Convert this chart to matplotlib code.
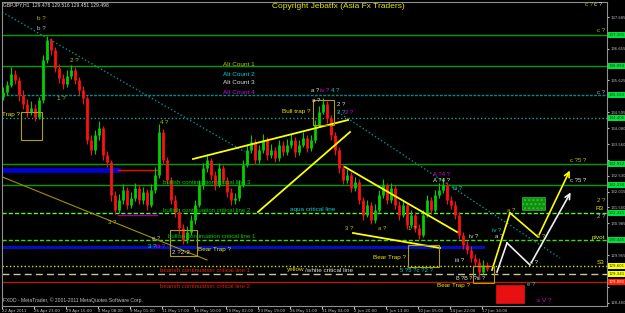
import matplotlib
matplotlib.use("Agg")
import matplotlib.pyplot as plt
from matplotlib.patches import Rectangle

W, H = 625, 313

# GBPJPY H1, one entry per two hourly bars
first_open = 135.10
closes = [135.25, 135.48, 135.83, 135.64, 135.15, 134.86, 134.60, 134.73, 134.44, 134.99,
          136.29, 136.94, 136.61, 136.03, 135.70, 135.51, 135.77, 135.96, 135.64, 135.31,
          135.06, 133.69, 133.37, 133.85, 134.08, 133.20, 132.98, 131.91, 131.42, 131.74,
          132.07, 131.58, 131.81, 132.13, 131.74, 132.00, 131.58, 132.07, 132.56, 133.95,
          133.04, 132.39, 131.74, 131.35, 130.83, 130.45, 130.71, 131.09, 131.58, 132.23,
          132.78, 133.04, 132.56, 132.23, 132.78, 132.39, 132.00, 131.74, 131.81, 132.23,
          132.88, 133.37, 133.63, 133.04, 133.37, 133.69, 133.20, 133.37, 133.11, 133.53,
          133.30, 133.53, 133.69, 133.30, 133.53, 133.76, 133.43, 133.69, 134.18, 134.60,
          134.86, 134.41, 133.85, 133.37, 132.78, 132.39, 132.56, 132.13, 132.33, 131.74,
          131.26, 131.58, 131.09, 131.42, 131.91, 132.23, 131.74, 132.13, 131.58, 131.26,
          131.58, 130.93, 131.26, 130.83, 130.61, 131.26, 131.74, 131.42, 131.91, 132.07,
          132.23, 131.74, 131.58, 131.26, 130.61, 130.28, 130.12, 129.86, 129.73, 129.41,
          129.63, 129.50]
highs = [135.40, 135.62, 136.05, 135.95, 135.75, 135.30, 135.02, 134.95, 134.85, 135.10,
         136.45, 137.08, 137.00, 136.70, 136.15, 135.85, 135.95, 136.12, 136.05, 135.75,
         135.45, 135.12, 133.85, 134.00, 134.30, 134.15, 133.35, 133.05, 132.05, 131.95,
         132.25, 132.15, 132.00, 132.30, 132.22, 132.18, 132.10, 132.25, 132.80, 134.20,
         134.05, 133.15, 132.50, 131.90, 131.45, 130.95, 130.90, 131.25, 131.75, 132.40,
         132.95, 133.25, 133.12, 132.70, 132.95, 132.88, 132.50, 132.12, 131.98, 132.40,
         133.05, 133.55, 133.85, 133.72, 133.52, 133.88, 133.78, 133.55, 133.48, 133.70,
         133.65, 133.72, 133.88, 133.78, 133.70, 133.95, 133.85, 133.85, 134.35, 134.80,
         135.05, 134.95, 134.50, 133.95, 133.45, 132.90, 132.75, 132.65, 132.50, 132.42,
         131.85, 131.75, 131.68, 131.60, 132.08, 132.42, 132.30, 132.30, 132.22, 131.70,
         131.75, 131.66, 131.42, 131.35, 130.95, 131.42, 131.92, 131.85, 132.08, 132.28,
         132.45, 132.32, 131.88, 131.70, 131.35, 130.72, 130.42, 130.25, 130.00, 129.85,
         129.78, 129.72]
lows = [134.98, 135.15, 135.40, 135.50, 134.95, 134.70, 134.45, 134.50, 134.30, 134.38,
        134.90, 136.20, 136.45, 135.90, 135.55, 135.35, 135.42, 135.68, 135.50, 135.15,
        134.85, 133.55, 133.20, 133.25, 133.70, 133.05, 132.80, 131.70, 131.30, 131.33,
        131.62, 131.45, 131.48, 131.70, 131.60, 131.62, 131.42, 131.50, 131.98, 132.45,
        132.90, 132.25, 131.60, 131.20, 130.65, 130.30, 130.35, 130.62, 130.98, 131.50,
        132.10, 132.65, 132.40, 132.08, 132.15, 132.25, 131.85, 131.58, 131.60, 131.72,
        132.15, 132.80, 133.28, 132.90, 132.95, 133.28, 133.05, 133.10, 132.98, 133.02,
        133.18, 133.22, 133.42, 133.15, 133.22, 133.45, 133.30, 133.35, 133.60, 134.10,
        134.52, 134.25, 133.70, 133.22, 132.62, 132.25, 132.30, 132.00, 132.05, 131.60,
        131.10, 131.18, 130.95, 131.00, 131.35, 131.82, 131.60, 131.65, 131.45, 131.10,
        131.18, 130.80, 130.85, 130.70, 130.48, 130.55, 131.18, 131.30, 131.35, 131.80,
        131.98, 131.60, 131.45, 131.12, 130.48, 130.15, 129.98, 129.72, 129.60, 129.28,
        129.33, 129.45]

dates = ["22 Apr 2011", "26 Apr 23:00", "29 Apr 15:00", "4 May 08:00", "9 May 01:00",
         "11 May 17:00", "16 May 10:00", "19 May 02:00", "23 May 19:00", "26 May 11:00",
         "31 May 04:00", "2 Jun 20:00", "7 Jun 13:00", "10 Jun 05:00", "14 Jun 22:00",
         "17 Jun 14:00"]

price_ticks = [137.685, 137.170, 136.655, 136.140, 135.625, 135.110, 134.595, 134.080,
               133.560, 133.045, 132.530, 132.015, 131.500, 130.985, 130.470, 129.955,
               129.440, 128.925, 128.400]

# horizontal levels and their price tags
levels = [137.101, 136.094, 135.153, 134.406, 132.912, 132.230, 131.321, 130.445,
          129.601, 129.341, 129.081]
level_style = [("#00a000", "-"), ("#00a000", "-"), ("#008c8c", (0, (2, 1))),
               ("#20a0a0", ":"), ("#00a000", "-"), ("#00a000", "-"),
               ("#50ff20", (0, (3, 1.5))), ("#40e000", (0, (3, 1.5))),
               ("#e0e000", ":"), ("#c8c8a0", (0, (5, 3))), ("#b02000", "-")]
tag_colors = ["#00e040"] * 8 + ["#ffff00", "#ffff00", "#ff2000"]


def bx(x):
    # chart pixel x -> bar position
    return (x - 3) / 4.0


def pr(y):
    # chart pixel y -> price
    return 138.237 - y / 30.8


fig = plt.figure(figsize=(W / 100, H / 100), dpi=100, facecolor="black")
ax = fig.add_axes([2 / W, 7 / H, 605 / W, 304 / H], facecolor="black")
ax.set_xlim(bx(2), bx(607))
ax.set_ylim(pr(306), pr(2))

# levels
for lv, (c, ls) in zip(levels, level_style):
    ax.axhline(lv, color=c, ls=ls, lw=1, zorder=1)

# candles
opens = [first_open] + closes[:-1]
xs = list(range(len(closes)))
lo = [min(o, c) for o, c in zip(opens, closes)]
hi = [max(o, c) for o, c in zip(opens, closes)]
cols = ["#00d000" if c >= o else "#ff1010" for o, c in zip(opens, closes)]
ax.vlines(xs, lows, highs, colors=cols, lw=0.8, zorder=3)
ax.vlines(xs, lo, hi, colors=cols, lw=2.0, zorder=3)


def seg(p, q, **kw):
    ax.plot([bx(p[0]), bx(q[0])], [pr(p[1]), pr(q[1])], **kw)


# drawn objects
seg((0, 170), (118, 170), color="#0000d0", lw=3.5, zorder=2)
seg((118, 170), (157, 170), color="#ff0000", lw=1, zorder=2)
seg((118, 215), (157, 215), color="#a000a0", lw=1, zorder=2)
seg((0, 247), (483, 247), color="#0010c0", lw=2.2, zorder=2)
seg((2, 12), (245, 152), color="#009090", lw=1, ls=":", zorder=2)
seg((338, 112), (560, 258), color="#009090", lw=1, ls=":", zorder=2)
seg((0, 176), (207, 260), color="#a09000", lw=0.8, zorder=2)
for p, q in [((193, 159), (348, 120)), ((258, 212), (350, 132)),
             ((345, 167), (457, 232)), ((353, 233), (440, 248))]:
    seg(p, q, color="#ffff00", lw=1.3, zorder=4)

seg((492, 270), (510, 213), color="#ffff00", lw=1.2, zorder=4)
seg((510, 213), (538, 237), color="#ffff00", lw=1.2, zorder=4)
ax.annotate("", xy=(bx(571), pr(168)), xytext=(bx(538), pr(237)),
            arrowprops=dict(arrowstyle="->", color="#ffff00", lw=1.2, mutation_scale=9))
seg((497, 272), (507, 243), color="#f0f0f0", lw=1.2, zorder=4)
seg((507, 243), (530, 265), color="#f0f0f0", lw=1.2, zorder=4)
ax.annotate("", xy=(bx(572), pr(190)), xytext=(bx(530), pr(265)),
            arrowprops=dict(arrowstyle="->", color="#f0f0f0", lw=1.2, mutation_scale=9))


def box(x1, y1, x2, y2, **kw):
    ax.add_patch(Rectangle((bx(x1), pr(y2)), bx(x2) - bx(x1), pr(y1) - pr(y2), **kw))


box(522, 197, 545, 210, facecolor="#109010", edgecolor="#30c030", hatch="....", lw=0.5, zorder=2)
box(496, 285, 524, 303, facecolor="#e81010", edgecolor="#e81010", lw=0.5, zorder=2)
for b in [(21, 112, 42, 140), (170, 230, 197, 256), (313, 100, 334, 125),
          (473, 266, 494, 283), (408, 245, 439, 267)]:
    box(*b, facecolor="none", edgecolor="#b0a000", lw=0.8, zorder=5)

# axes styling
for s in ax.spines.values():
    s.set_color("#909090")
    s.set_linewidth(0.8)
ax.yaxis.tick_right()
ax.set_yticks(price_ticks)
# tick labels hidden under a price tag are left blank
ax.set_yticklabels(["" if min(abs(v - lv) for lv in levels) < 0.17 else "%.3f" % v
                    for v in price_ticks])
ax.tick_params(axis="y", direction="out", length=1.5, labelsize=2.7, colors="#c0c0c0", pad=0.8)
ax.set_xticks([k * 8 - 0.25 for k in range(len(dates))])
ax.set_xticklabels(dates)
ax.tick_params(axis="x", direction="out", length=2, labelsize=2.9, colors="#c0c0c0", pad=0.5)
for lab in ax.get_xticklabels():
    lab.set_horizontalalignment("left")

# price tags
for lv, tc in zip(levels, tag_colors):
    fig.text(608.5 / W, 1 - (138.237 - lv) * 30.8 / H, "%.3f" % lv, fontsize=2.8,
             color="#004000" if tc != "#ff2000" else "#ffffff", va="center", ha="left",
             bbox=dict(boxstyle="square,pad=0.2", fc=tc, ec="none"))

YL, OL, WH, CY, MG, GR, RD = "#e8e800", "#c0c000", "#e0e0e0", "#00d8d8", "#e000e0", "#00d000", "#e02000"
notes = [
    (3, 5, "GBPJPY,H1  129.478 129.516 129.451 129.498", WH, 3.6),
    (272, 7, "Copyright Jebatfx (Asia Fx Traders)", YL, 6),
    (37, 18, "b ?", OL, 4.5), (37, 28, "b ?", "#c0c0c0", 4.5),
    (70, 60, "2 ?", OL, 4.5), (57, 99, "1 ?", OL, 4.5),
    (2, 114, "Trap ?", YL, 4.6),
    (223, 65, "Alt Count 1", OL, 4.6), (223, 74, "Alt Count 2", CY, 4.6),
    (223, 83, "Alt Count 3", WH, 4.6), (223, 92, "Alt Count 4", MG, 4.6),
    (311, 91, "a ?", WH, 4.3), (320, 91, "iv ?", MG, 4.3), (331, 91, "4 ?", CY, 4.3),
    (312, 101, "a ?", WH, 4.3), (282, 112, "Bull trap ?", YL, 4.6),
    (337, 105, "2 ?", WH, 4.3), (337, 113, "2 ?", CY, 4.3), (345, 113, "2 ?", MG, 4.3),
    (585, 5, "c ?", OL, 4.3), (594, 5, "c ?", WH, 4.3),
    (597, 31, "c ?", OL, 4.3), (597, 92, "c ?", "#c0c0c0", 4.3),
    (160, 123, "4 ?", OL, 4.3),
    (163, 183, "bullish continuation critical line 3", GR, 4.4),
    (163, 210, "bullish continuation critical line 2", GR, 4.4),
    (290, 209, "aqua critical line", CY, 4.6),
    (168, 237, "bullish continuation critical line 1", GR, 4.4),
    (152, 238, "e ?", "#c0c0c0", 4.3),
    (148, 247, "3 ?", CY, 4.3), (156, 247, "iii ?", MG, 4.3),
    (172, 252, "2 ?2-2", "#e0e0c0", 4.6), (198, 249, "Bear Trap ?", YL, 4.6),
    (287, 270, "yellow", YL, 4.6), (305, 270, "/white critical line", WH, 4.6),
    (160, 270, "bearish continuation critical line 1", RD, 4.4),
    (160, 286, "bearish continuation critical line 2", RD, 4.4),
    (108, 222, "3 ?", OL, 4.3),
    (3, 300, "FXDD - MetaTrader, \u00a9 2001-2011 MetaQuotes Software Corp.", "#c0c0c0", 3.6),
    (345, 229, "3 ?", OL, 4.3), (378, 229, "a ?", OL, 4.3), (408, 229, "1 ?", OL, 4.3),
    (373, 257, "Bear Trap ?", YL, 4.6), (400, 270, "5 ?5 ?c ?2 ?", CY, 4.3),
    (433, 174, "A ?4 ?", MG, 4.3), (433, 181, "A ?4 ?", WH, 4.3), (453, 189, "iii ?", CY, 4.3),
    (570, 161, "c ?5 ?", OL, 4.3), (570, 181, "c ?5 ?", WH, 4.3),
    (492, 231, "iv ?", CY, 4.3), (495, 237, "a ?", WH, 4.3), (469, 237, "iv ?", WH, 4.3),
    (455, 260, "iii ?", WH, 4.3), (537, 237, "b ?", OL, 4.3), (507, 210, "a ?", OL, 4.3),
    (530, 263, "c ?", WH, 4.3), (456, 278, "B ?B ? ?iii ?", WH, 4.0),
    (437, 286, "Bear Trap ?", YL, 4.6), (527, 284, "e ?", CY, 4.3), (537, 301, "s V ?", MG, 4.6),
    (597, 201, "2 ?", OL, 4.3), (596, 208, "R3", YL, 4.6), (597, 217, "2 ?", "#c0c0c0", 4.3),
    (592, 237, "pivot", YL, 4.6), (597, 263, "S3", YL, 4.6),
]
for x, y, s, c, fs in notes:
    fig.text(x / W, 1 - y / H, s, color=c, fontsize=fs, va="center", ha="left",
             family=["Liberation Sans", "DejaVu Sans"])

fig.savefig("out.png", dpi=100, facecolor="black")
